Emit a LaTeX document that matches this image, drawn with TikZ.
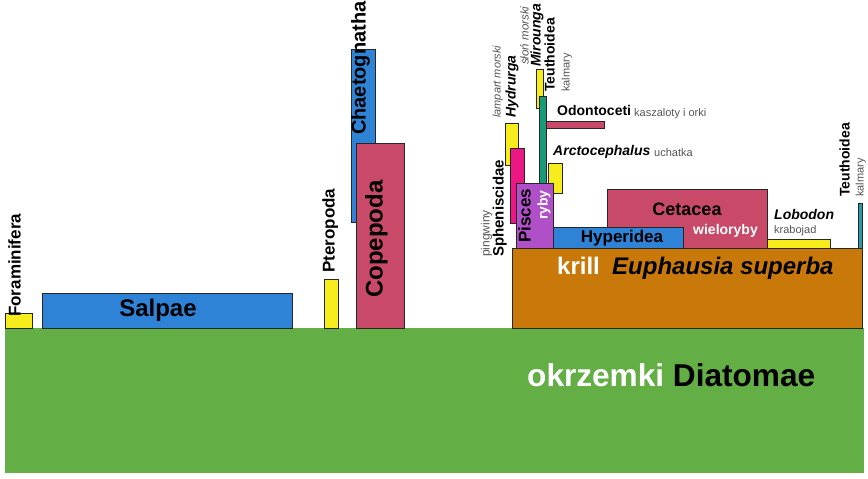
\documentclass[tikz,border=0pt]{standalone}
\usepackage{fontspec}
\setmainfont{Liberation Sans}
\newcommand\myfs[1]{\fontsize{#1}{#1}\selectfont}
\definecolor{grn}{HTML}{63AE45}
\definecolor{blu}{HTML}{2E83D6}
\definecolor{yel}{HTML}{F7EC1C}
\definecolor{crm}{HTML}{C94A68}
\definecolor{org}{HTML}{C8790A}
\definecolor{pur}{HTML}{B050C8}
\definecolor{pnk}{HTML}{EC1782}
\definecolor{tel}{HTML}{1A9B78}
\definecolor{telb}{HTML}{2A9BA8}
\definecolor{gry}{HTML}{555555}
\begin{document}
\begin{tikzpicture}[x=1pt,y=-1pt,
  bx/.style={draw=black!85,line width=0.6pt},
  fz/.style={inner sep=0pt,font=\bfseries\myfs{#1}},
  fi/.style={inner sep=0pt,font=\bfseries\itshape\myfs{#1}},
  nt/.style={inner sep=0pt,font=\myfs{#1},text=gry},
  ni/.style={inner sep=0pt,font=\itshape\myfs{#1},text=gry},
  vl/.style={rotate=90,anchor=mid west},
  hl/.style={anchor=mid west}]
\useasboundingbox (0,0) rectangle (868,479);
% ground
\fill[grn] (5,328) rectangle (864,473);
% left group
\filldraw[bx,fill=yel] (5,313) rectangle (32,328);
\filldraw[bx,fill=blu] (42,293) rectangle (292,328);
\filldraw[bx,fill=yel] (324,279) rectangle (338,328);
\filldraw[bx,fill=blu] (351,49) rectangle (375,222);
\filldraw[bx,fill=crm] (356,143) rectangle (404,328);
% krill group
\filldraw[bx,fill=org] (512,248) rectangle (862,328);
\filldraw[bx,fill=crm] (607,189) rectangle (767,248);
\filldraw[bx,fill=blu] (540,227) rectangle (683,248);
\filldraw[bx,fill=yel] (767,239) rectangle (830,248);
\filldraw[bx,fill=telb] (858,203) rectangle (862,248);
\filldraw[bx,fill=yel] (505,123) rectangle (518,165);
\filldraw[bx,fill=pnk] (510,148) rectangle (524,223);
\filldraw[bx,fill=yel] (536,69) rectangle (543,108);
\filldraw[bx,fill=tel] (539,96) rectangle (546,185);
\filldraw[bx,fill=crm] (546,121) rectangle (604,128);
\filldraw[bx,fill=yel] (548,163) rectangle (562,193);
\filldraw[bx,fill=pur] (516,183) rectangle (553,248);
% labels
\node[fz=17,vl] (foram) at (18,317) {Foraminifera};
\node[fz=24] (salp) at (158,310) {Salpae};
\node[fz=17,vl] (pter) at (332,273) {Pteropoda};
\node[fz=20,vl] (chaet) at (363,135) {Chaetognatha};
\node[fz=24,vl] (cope) at (380,298) {Copepoda};
\node[fz=24,hl,text=white] (krill) at (557,272) {krill};
\node[fi=24,hl] (euph) at (612,272) {Euphausia superba};
\node[fz=17] (hyper) at (622,238) {Hyperidea};
\node[fz=18] (ceta) at (687,209) {Cetacea};
\node[fz=14,hl,text=white] (wiel) at (693,232) {wieloryby};
\node[fi=14,hl] (lobo) at (774,217) {Lobodon};
\node[nt=11,hl] (krab) at (774,231) {krabojad};
\node[fz=14,hl] (odon) at (557,113) {Odontoceti};
\node[nt=11,hl] (kasz) at (634,114) {kaszaloty i orki};
\node[fi=14,hl] (arct) at (553,153) {Arctocephalus};
\node[nt=11,hl] (ucha) at (654,154) {uchatka};
\node[fz=15,vl] (sphen) at (501,257) {Spheniscidae};
\node[nt=12,vl] (ping) at (487,257) {pingwiny};
\node[fz=17,vl] (pisc) at (528,243) {Pisces};
\node[fz=14,vl,text=white] (ryby) at (545,220) {ryby};
\node[fi=14,vl] (hydr) at (513,118) {Hydrurga};
\node[ni=11,vl] (lamp) at (498,118) {lampart morski};
\node[fi=14,vl] (miro) at (538,67) {Mirounga};
\node[ni=11.5,vl] (slon) at (526,65) {słoń morski};
\node[fz=14,vl] (teut) at (552,92) {Teuthoidea};
\node[nt=11,vl] (kalm) at (567,92) {kalmary};
\node[fz=14,vl] (teut2) at (847,197) {Teuthoidea};
\node[nt=11,vl] (kalm2) at (861,197) {kalmary};
\node[fz=31.6,hl] (diat) at (527,384) {\textcolor{white}{okrzemki} Diatomae};
\end{tikzpicture}
\end{document}
